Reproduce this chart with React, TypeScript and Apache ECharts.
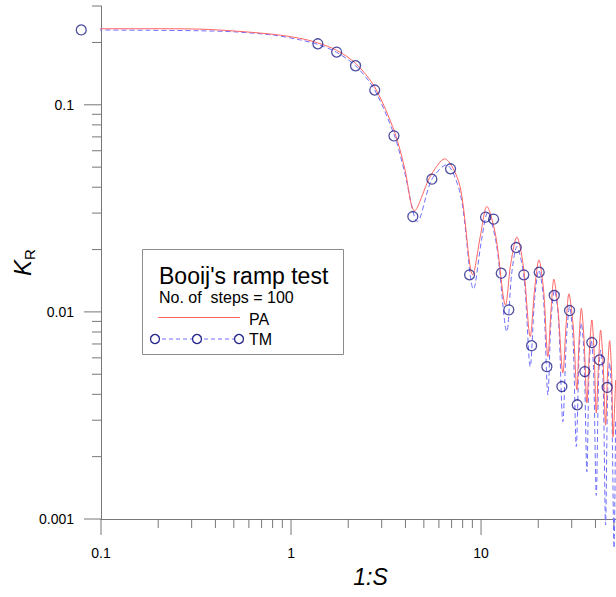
import React, { useEffect, useRef } from 'react';
import * as echarts from 'echarts';

const FONT = '"Liberation Sans", Arial, sans-serif';
const AXIS_COLOR = '#777777';
const PA_COLOR = '#ff6464';
const TM_COLOR = '#6f6fff';
const MARK_COLOR = '#22228a';

const X_MIN = 0.1;
const X_MAX = 51.3;
const Y_MIN = 0.001;
const Y_MAX = 0.3;

const X_MAJOR = [0.1, 1, 10];
const X_MINOR = [0.2, 0.3, 0.4, 0.5, 0.6, 0.7, 0.8, 0.9, 2, 3, 4, 5, 6, 7, 8, 9, 20, 30, 40, 50];
const Y_MAJOR = [0.001, 0.01, 0.1];
const Y_MINOR = [0.002, 0.003, 0.004, 0.005, 0.006, 0.007, 0.008, 0.009, 0.02, 0.03, 0.04, 0.05, 0.06, 0.07, 0.08, 0.09, 0.2, 0.3];

const PA_X = [0.0789, 0.18, 0.33, 0.51, 0.819, 1.108, 1.379, 1.736, 2.185, 2.751, 3.505, 3.958, 4.467, 5.39, 6.43, 7.71, 9.05, 9.94, 10.73, 11.92, 13.46, 14.3, 15.43, 16.74, 18.15, 19.12, 20.15, 21.33, 22.47, 23.35, 24.16, 25.42, 26.94, 28.02, 28.98, 30.5, 31.93, 32.8, 33.7, 34.84, 36.05, 37.15, 38.3, 39.33, 40.4, 41.54, 42.56, 43.87, 45.22, 46.33, 47.47, 48.63, 49.52, 51.05];
const PA_Y = [0.2329, 0.233, 0.232, 0.227, 0.2186, 0.2096, 0.1993, 0.1834, 0.1587, 0.1222, 0.0741, 0.0496, 0.0308, 0.0449, 0.0548, 0.0411, 0.0151, 0.02355, 0.0323, 0.02355, 0.0108, 0.01686, 0.02296, 0.01632, 0.0076, 0.01277, 0.01783, 0.01277, 0.00608, 0.01023, 0.01439, 0.01023, 0.00507, 0.00865, 0.01222, 0.00865, 0.0042, 0.00732, 0.01042, 0.00732, 0.00363, 0.0064, 0.00915, 0.0064, 0.00325, 0.00573, 0.00818, 0.00573, 0.00284, 0.00513, 0.00727, 0.00513, 0.00249, 0.00469];

const TM_X = [0.0789, 0.18, 0.33, 0.51, 0.819, 1.108, 1.379, 1.736, 2.185, 2.751, 3.505, 3.958, 4.63, 5.49, 6.56, 7.8, 9.13, 10.06, 10.82, 12.06, 13.67, 14.47, 15.43, 16.84, 18.15, 19.12, 20.15, 21.33, 22.47, 23.35, 24.37, 25.57, 26.94, 28.12, 29.23, 30.5, 31.7, 32.8, 33.7, 34.84, 36.05, 37.02, 38.02, 39.1, 40.4, 41.54, 42.56, 43.87, 45.22, 46.33, 47.47, 48.63, 50.1, 51.05];
const TM_Y = [0.23, 0.229, 0.2278, 0.2249, 0.2166, 0.2061, 0.196, 0.1793, 0.1544, 0.1182, 0.0708, 0.0474, 0.0273, 0.0434, 0.0513, 0.0367, 0.01288, 0.02228, 0.0301, 0.02108, 0.00803, 0.0151, 0.02068, 0.0146, 0.00544, 0.01143, 0.01595, 0.01143, 0.00397, 0.00915, 0.01277, 0.00915, 0.00295, 0.00732, 0.0106, 0.00732, 0.002235, 0.0062, 0.00885, 0.0062, 0.00169, 0.00525, 0.00732, 0.00525, 0.0013, 0.00469, 0.00655, 0.00469, 0.000935, 0.00397, 0.00567, 0.00397, 0.000724, 0.00301];

const MARK_X = [0.0787, 1.384, 1.738, 2.185, 2.757, 3.48, 4.375, 5.51, 6.91, 8.7, 10.56, 11.64, 12.77, 14.0, 15.31, 16.79, 18.45, 20.23, 22.2, 24.28, 26.63, 29.23, 32.07, 35.16, 38.28, 42.05, 46.1];
const MARK_Y = [0.23, 0.197, 0.1797, 0.1544, 0.1178, 0.0708, 0.02887, 0.04375, 0.0491, 0.0151, 0.02868, 0.02805, 0.01538, 0.01023, 0.02045, 0.0151, 0.00687, 0.01555, 0.00544, 0.012, 0.00436, 0.01015, 0.00356, 0.00515, 0.00711, 0.00586, 0.00432];

const TITLE = "Booij's ramp test";
const SUBTITLE = 'No. of  steps = 100';

function decadeLabel(v: number): string {
  const l = Math.log10(v);
  const e = Math.round(l);
  if (Math.abs(l - e) > 1e-6) return '';
  return e >= 0 ? String(Math.round(Math.pow(10, e))) : Math.pow(10, e).toFixed(-e);
}

export default function App() {
  const ref = useRef<HTMLDivElement>(null);
  useEffect(() => {
    const chart = echarts.init(ref.current!, null, { renderer: 'svg' });
    const pa = PA_X.map((x, i) => [x, PA_Y[i]]);
    const tm = TM_X.map((x, i) => [x, TM_Y[i]]);
    const marks = MARK_X.map((x, i) => [x, MARK_Y[i]]);
    const xTicks = [
      ...X_MAJOR.map((v) => [v, Y_MIN, 16]),
      ...X_MINOR.map((v) => [v, Y_MIN, 9]),
    ];
    const yTicks = [
      ...Y_MAJOR.map((v) => [X_MIN, v, 17]),
      ...Y_MINOR.map((v) => [X_MIN, v, 9]),
    ];
    const option: any = {
      animation: false,
      backgroundColor: '#fff',
      grid: { left: 101, right: 0, top: 6, bottom: 78, containLabel: false, outerBoundsMode: 'none' },
      xAxis: {
        type: 'log',
        logBase: 10,
        min: X_MIN,
        max: X_MAX,
        name: '1:S',
        nameLocation: 'middle',
        nameGap: 46,
        nameMoveOverlap: false,
        nameTextStyle: { fontFamily: FONT, fontSize: 23, fontStyle: 'italic', color: '#000', padding: [0, 0, 0, 24] },
        axisLine: { show: true, lineStyle: { color: AXIS_COLOR, width: 1 } },
        axisTick: { show: false },
        minorTick: { show: false },
        splitLine: { show: false },
        axisLabel: {
          margin: 27,
          fontFamily: FONT,
          fontSize: 14,
          color: '#000',
          formatter: (v: number) => decadeLabel(v),
        },
      },
      yAxis: {
        type: 'log',
        logBase: 10,
        min: Y_MIN,
        max: Y_MAX,
        name: '{k|K}{r|R}',
        nameLocation: 'middle',
        nameRotate: 90,
        nameGap: 64,
        nameMoveOverlap: false,
        nameTextStyle: {
          rich: {
            k: { fontFamily: FONT, fontSize: 24, fontStyle: 'italic', color: '#000', lineHeight: 30 },
            r: { fontFamily: FONT, fontSize: 15, color: '#000', verticalAlign: 'bottom', lineHeight: 30 },
          },
        },
        axisLine: { show: true, lineStyle: { color: AXIS_COLOR, width: 1 } },
        axisTick: { show: false },
        minorTick: { show: false },
        splitLine: { show: false },
        axisLabel: {
          margin: 27,
          fontFamily: FONT,
          fontSize: 14,
          color: '#000',
          formatter: (v: number) => decadeLabel(v),
        },
      },
      series: [
        {
          name: 'xticks',
          type: 'custom',
          clip: false,
          silent: true,
          encode: { x: 0, y: 1 },
          data: xTicks,
          renderItem: (params: any, api: any) => {
            const p = api.coord([api.value(0), api.value(1)]);
            const len = api.value(2);
            return {
              type: 'line',
              shape: { x1: p[0], y1: p[1], x2: p[0], y2: p[1] + len },
              style: { stroke: AXIS_COLOR, lineWidth: 1 },
            };
          },
        },
        {
          name: 'yticks',
          type: 'custom',
          clip: false,
          silent: true,
          encode: { x: 0, y: 1 },
          data: yTicks,
          renderItem: (params: any, api: any) => {
            const p = api.coord([api.value(0), api.value(1)]);
            const len = api.value(2);
            return {
              type: 'line',
              shape: { x1: p[0] - len, y1: p[1], x2: p[0], y2: p[1] },
              style: { stroke: AXIS_COLOR, lineWidth: 1 },
            };
          },
        },
        {
          name: 'PA',
          type: 'line',
          data: pa,
          clip: false,
          smooth: 0.3,
          showSymbol: false,
          lineStyle: { color: PA_COLOR, width: 1 },
          z: 3,
        },
        {
          name: 'TM',
          type: 'line',
          data: tm,
          clip: false,
          smooth: 0.3,
          showSymbol: false,
          lineStyle: { color: TM_COLOR, width: 1, type: [5, 3] },
          z: 2,
        },
        {
          name: 'TM markers',
          type: 'scatter',
          data: marks,
          clip: false,
          symbol: 'circle',
          symbolSize: 10,
          itemStyle: { color: 'rgba(0,0,0,0)', borderColor: MARK_COLOR, borderWidth: 1.3 },
          z: 4,
        },
      ],
      graphic: [
        {
          type: 'group',
          z: 10,
          children: [
            {
              type: 'rect',
              shape: { x: 142.5, y: 249.5, width: 201, height: 105 },
              style: { fill: '#fff', stroke: '#8c8c8c', lineWidth: 1 },
            },
            {
              type: 'text',
              x: 159,
              y: 275.5,
              style: { text: TITLE, fontFamily: FONT, fontSize: 23, fill: '#000', verticalAlign: 'middle' },
            },
            {
              type: 'text',
              x: 159,
              y: 297.5,
              style: { text: SUBTITLE, fontFamily: FONT, fontSize: 16, fill: '#000', verticalAlign: 'middle' },
            },
            {
              type: 'line',
              shape: { x1: 158, y1: 317.5, x2: 240, y2: 317.5 },
              style: { stroke: PA_COLOR, lineWidth: 1 },
            },
            {
              type: 'text',
              x: 249,
              y: 319.5,
              style: { text: 'PA', fontFamily: FONT, fontSize: 16, fill: '#000', verticalAlign: 'middle' },
            },
            {
              type: 'line',
              shape: { x1: 155, y1: 339, x2: 239, y2: 339 },
              style: { stroke: TM_COLOR, lineWidth: 1, lineDash: [4, 3] },
            },
            ...[155, 197, 239].map((cx) => ({
              type: 'circle',
              shape: { cx, cy: 339, r: 4.5 },
              style: { fill: '#fff', stroke: MARK_COLOR, lineWidth: 1.3 },
            })),
            {
              type: 'text',
              x: 249,
              y: 339.5,
              style: { text: 'TM', fontFamily: FONT, fontSize: 16, fill: '#000', verticalAlign: 'middle' },
            },
          ],
        },
      ],
    };
    chart.setOption(option);
    return () => chart.dispose();
  }, []);
  return (
    <div
      ref={ref}
      style={{ position: 'absolute', left: 0, top: 0, width: 616, height: 597, background: '#fff' }}
    />
  );
}
